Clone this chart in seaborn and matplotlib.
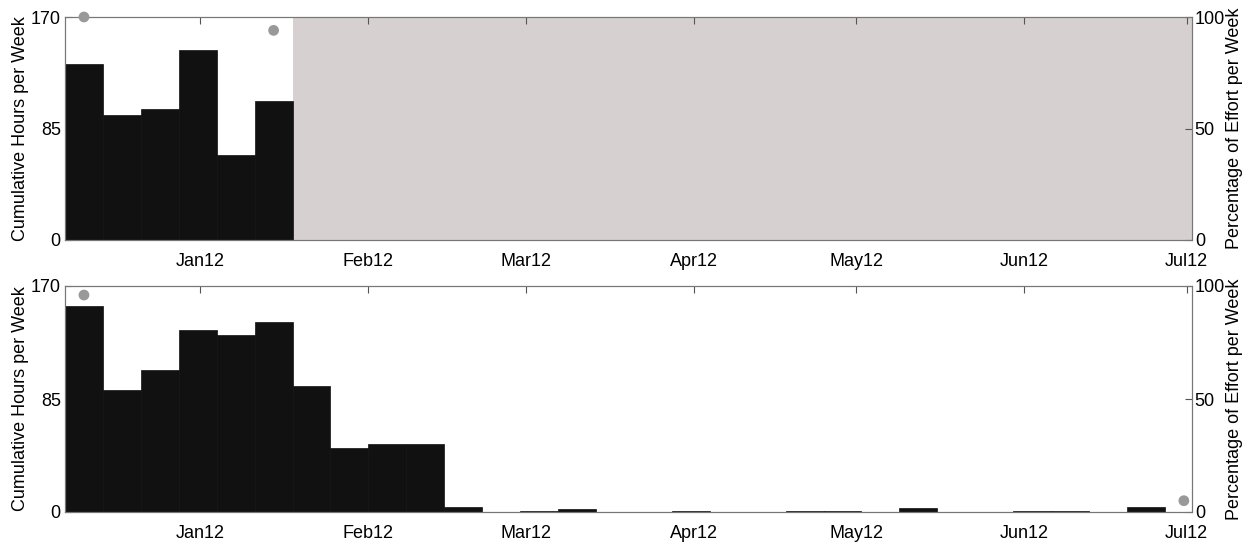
import numpy as np
import pandas as pd
import matplotlib
matplotlib.use("Agg")
import matplotlib.pyplot as plt
import matplotlib.dates as mdates
import seaborn as sns

sns.set_style("white")
plt.rcParams['font.family'] = ['Liberation Sans', 'DejaVu Sans']
plt.rcParams['text.color'] = 'black'
plt.rcParams['axes.labelcolor'] = 'black'

START = "2011-12-07"
END = "2012-07-02"

# weekly cumulative hours (weeks starting Dec 7, 2011)
top_hours = [134, 95, 100, 145, 65, 106]
bottom_hours = [155, 92, 107, 137, 133, 143, 95, 48, 51, 51, 4, 0, 0.5, 2,
                0, 0, 0.6, 0, 0, 0.7, 1, 0, 3, 0, 0, 0.7, 0.5, 0, 4]
# percentage of effort points: (week index, percent)
top_pct_weeks = [0, 5]
top_pct = [100, 94]
bottom_pct_weeks = [0, 29]
bottom_pct = [96, 5]
months = ["Jan12", "Feb12", "Mar12", "Apr12", "May12", "Jun12", "Jul12"]

start = mdates.date2num(pd.Timestamp(START))
end = mdates.date2num(pd.Timestamp(END))


def panel(ax, hours, pw, pv, shade):
    n = len(hours)
    df = pd.DataFrame({"week": start + 7 * np.arange(n) + 3.5, "hours": hours})
    sns.histplot(data=df, x="week", weights="hours", binwidth=7,
                 binrange=(start, start + 7 * n), ax=ax,
                 color="#111111", alpha=1, edgecolor="#111111", linewidth=0.5)
    if shade:
        ax.axvspan(start + 7 * n, end, color="#d7d0d0", lw=0, zorder=0)
    ax.set_xlim(start, end)
    ax.set_ylim(0, 170)
    ax.set_yticks([0, 85, 170])
    ax.set_xlabel("")
    ax.set_ylabel("Cumulative Hours per Week", fontsize=13, labelpad=1)
    ax.set_xticks([mdates.date2num(pd.Timestamp(f"2012-{m:02d}-01")) for m in range(1, 8)])
    ax.set_xticklabels(months)
    ax.tick_params(direction="in", top=True, labelsize=13, length=5, pad=9,
                   color="#555", labelcolor="black")
    ax.tick_params(axis="y", pad=3)
    ax2 = ax.twinx()
    pdf = pd.DataFrame({"x": start + 7 * np.array(pw) + 3.5, "y": pv})
    sns.scatterplot(data=pdf, x="x", y="y", ax=ax2, color="#999999",
                    s=60, edgecolor="none", clip_on=False, zorder=5)
    ax2.set_ylim(0, 100)
    ax2.set_yticks([0, 50, 100])
    ax2.set_ylabel("Percentage of Effort per Week", fontsize=13, labelpad=1)
    ax2.tick_params(direction="in", labelsize=13, length=5, pad=2,
                    color="#555", labelcolor="black")
    for a in (ax, ax2):
        for s in a.spines.values():
            s.set_color("#777")
            s.set_linewidth(0.8)


fig = plt.figure(figsize=(12.56, 5.44), dpi=100)
ax1 = fig.add_axes([65 / 1256, 1 - 240 / 544, 1127 / 1256, 223 / 544])
ax2 = fig.add_axes([65 / 1256, 1 - 512 / 544, 1127 / 1256, 226 / 544])
panel(ax1, top_hours, top_pct_weeks, top_pct, True)
panel(ax2, bottom_hours, bottom_pct_weeks, bottom_pct, False)
fig.savefig("out.png", dpi=100)
